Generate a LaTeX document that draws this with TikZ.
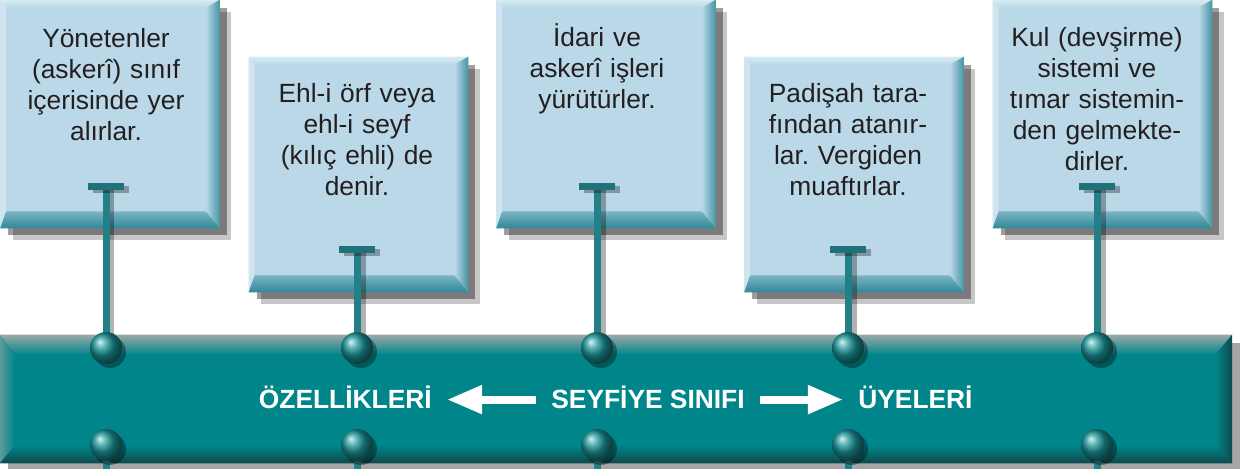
\documentclass[tikz,border=0pt]{standalone}
\usepackage{fontspec}
\setmainfont{Liberation Sans}
\frenchspacing
\usetikzlibrary{calc,positioning,arrows.meta,shadows}
\definecolor{boxfill}{HTML}{BAD8E8}
\definecolor{boxlight}{HTML}{D8ECF3}
\definecolor{boxedge}{HTML}{2F8897}
\definecolor{barfill}{HTML}{00868A}
\definecolor{bardark}{HTML}{0F484C}
\definecolor{barlight}{HTML}{9AA8A8}
\definecolor{stemcol}{HTML}{237F88}
\definecolor{ink}{HTML}{231F20}
\newcommand{\kutufont}{\fontsize{15pt}{17.6pt}\selectfont}
\newcommand{\seritfont}{\fontsize{15pt}{18pt}\selectfont\bfseries}
\tikzset{
  kutu/.style={fill=boxfill, minimum width=4.38cm, inner sep=0pt,
    drop shadow={shadow xshift=0.24cm, shadow yshift=-0.24cm, fill=black, opacity=.22},
    drop shadow={shadow xshift=0.15cm, shadow yshift=-0.15cm, fill=black, opacity=.38}},
  yazi/.style={anchor=base, text width=4.2cm, align=center, font=\kutufont, text=ink, inner sep=0pt},
  serit/.style={fill=barfill, minimum width=24.64cm, minimum height=2.56cm, inner sep=0pt,
    drop shadow={shadow xshift=0.16cm, shadow yshift=-0.16cm, fill=black, opacity=.35}},
  baslik/.style={anchor=base, text=white, font=\seritfont, text height=10.7pt, text depth=0pt,
    inner xsep=0.3cm, inner ysep=0pt},
  ok/.style={draw=white, line width=0.16cm, -{Triangle[length=0.7cm, width=0.54cm]}},
  govde/.style={draw=stemcol, line width=0.14cm},
  golge/.style={draw=black, opacity=.3, line width=0.14cm, transform canvas={shift={(0.1cm,-0.06cm)}}},
  tbar/.style={draw=stemcol!90!black, line width=0.14cm},
  kure/.style={circle, minimum size=0.64cm, inner sep=0pt, shading=ball, ball color=barfill!90!white,
    drop shadow={shadow xshift=0.08cm, shadow yshift=-0.08cm, fill=black, opacity=.35}}
}

\begin{document}
\begin{tikzpicture}[x=0.02cm, y=-0.02cm]
  \useasboundingbox (0,0) rectangle (1242,469);

  % kutular
  \node[kutu, minimum height=4.56cm] (k1) at (110,114) {};
  \node[kutu, minimum height=4.7cm] (k2) at (358.5,174.5) {};
  \node[kutu, minimum height=4.56cm] (k3) at (606,114) {};
  \node[kutu, minimum height=4.7cm] (k4) at (854,174.5) {};
  \node[kutu, minimum height=4.56cm] (k5) at (1102.5,114) {};

  \foreach \k in {k1,k2,k3,k4,k5}{
    \shade[top color=boxlight, bottom color=boxfill] (\k.north west) -- (\k.north east)
      -- ($(\k.north east)+(-0.28cm,-0.16cm)$) -- ($(\k.north west)+(0.12cm,-0.16cm)$) -- cycle;
    \fill[boxfill!70!white] (\k.north west) -- ($(\k.north west)+(0.12cm,-0.16cm)$)
      -- ($(\k.south west)+(0.12cm,0.34cm)$) -- (\k.south west) -- cycle;
    \shade[left color=boxfill, right color=boxedge!85!boxfill] (\k.north east) -- ($(\k.north east)+(-0.28cm,-0.16cm)$)
      -- ($(\k.south east)+(-0.28cm,0.34cm)$) -- (\k.south east) -- cycle;
    \shade[top color=boxfill!55!boxedge, bottom color=boxedge] (\k.south west) -- ($(\k.south west)+(0.12cm,0.34cm)$)
      -- ($(\k.south east)+(-0.28cm,0.34cm)$) -- (\k.south east) -- cycle;
  }

  \node[yazi] (y1) at (106,48) {Yönetenler\\(askerî) sınıf\\içerisinde yer\\alırlar.};
  \node[yazi] (y2) at (357,103) {Ehl-i örf veya\\ehl-i seyf\\(kılıç ehli) de\\denir.};
  \node[yazi] (y3) at (597,47) {İdari ve\\askerî işleri\\yürütürler.};
  \node[yazi] (y4) at (848,103) {Padişah tara-\\fından atanır-\\lar. Vergiden\\muaftırlar.};
  \node[yazi] (y5) at (1097,47) {Kul (devşirme)\\sistemi ve\\tımar sistemin-\\den gelmekte-\\dirler.};

  % serit
  \node[serit] (bar) at (616,399) {};
  \shade[top color=barlight, bottom color=barfill] (bar.north west) -- (bar.north east)
    -- ($(bar.north east)+(-0.34cm,-0.4cm)$) -- ($(bar.north west)+(0.3cm,-0.4cm)$) -- cycle;
  \shade[left color=barlight!60!barfill, right color=barfill] (bar.north west) -- ($(bar.north west)+(0.3cm,-0.4cm)$)
    -- ($(bar.south west)+(0.3cm,0.36cm)$) -- (bar.south west) -- cycle;
  \shade[top color=barfill, bottom color=bardark] (bar.south west) -- ($(bar.south west)+(0.3cm,0.36cm)$)
    -- ($(bar.south east)+(-0.34cm,0.36cm)$) -- (bar.south east) -- cycle;
  \shade[left color=barfill, right color=bardark] (bar.north east) -- ($(bar.north east)+(-0.34cm,-0.4cm)$)
    -- ($(bar.south east)+(-0.34cm,0.36cm)$) -- (bar.south east) -- cycle;

  \node[baslik] (seyfiye) at (648,409) {SEYFİYE SINIFI};
  \node[baslik, left=1.78cm of seyfiye] (ozellik) {ÖZELLİKLERİ};
  \node[baslik, right=1.66cm of seyfiye] (uye) {ÜYELERİ};
  \draw[ok] (seyfiye.west) -- (ozellik.east);
  \draw[ok] (seyfiye.east) -- (uye.west);

  % baglantilar
  \foreach \x/\t/\n in {106/186.5/1, 357/250/2, 597/186.5/3, 848/250/4, 1097/186.5/5}{
    \coordinate (T\n) at (\x,\t);
    \coordinate (u\n) at (\x,348);
    \coordinate (a\n) at (\x,445);
    \coordinate (z\n) at (\x,480);
    \draw[golge] (T\n) -- (u\n);
    \draw[govde] (T\n) -- (u\n);
    \draw[govde] (a\n) -- (z\n);
    \draw[golge] ($(T\n)+(-0.36cm,0)$) -- ($(T\n)+(0.36cm,0)$);
    \draw[tbar] ($(T\n)+(-0.36cm,0)$) -- ($(T\n)+(0.36cm,0)$);
    \node[kure] (ust\n) at (u\n) {};
    \node[kure] (alt\n) at (a\n) {};
  }
\end{tikzpicture}
\end{document}
